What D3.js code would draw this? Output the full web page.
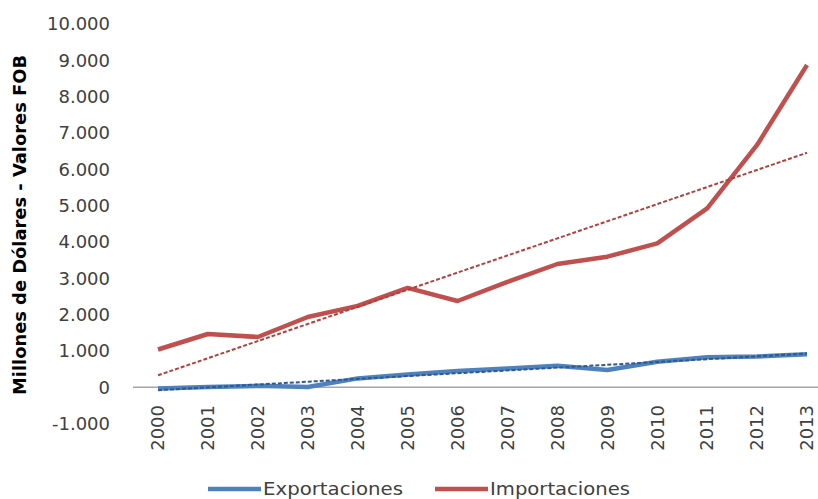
<!DOCTYPE html>
<html>
<head>
<meta charset="utf-8">
<script src="https://cdn.jsdelivr.net/npm/d3@7"></script>
<style>
  body { margin: 0; background: #fff; }
  text { font-family: "DejaVu Sans", sans-serif; fill: #404040; }
</style>
</head>
<body>
<script>
// Data (millones de dólares, valores FOB)
var years = ["2000", "2001", "2002", "2003", "2004", "2005", "2006",
             "2007", "2008", "2009", "2010", "2011", "2012", "2013"];
var exportaciones = [-30, 10, 40, 10, 245, 355, 450, 520, 595, 475, 705, 825, 845, 910];
var importaciones = [1040, 1467, 1385, 1935, 2240, 2735, 2375, 2900, 3394, 3595, 3963, 4927, 6670, 8870];
var yTicks = [-1000, 0, 1000, 2000, 3000, 4000, 5000, 6000, 7000, 8000, 9000, 10000];

var width = 818, height = 499;

var svg = d3.select("body").append("svg")
    .attr("width", width)
    .attr("height", height);

// Scales
var xScale = d3.scalePoint()
    .domain(years)
    .range([158, 807]);

var yScale = d3.scaleLinear()
    .domain([0, 10000])
    .range([387.3, 24]);

// Spanish number format: dot as thousands separator, plain hyphen for minus
var fmt = function(d) {
    return d3.format(",")(d).replace(/,/g, ".").replace("\u2212", "-");
};

// Y tick labels (no axis line)
svg.append("g")
    .selectAll("text")
    .data(yTicks)
    .enter()
    .append("text")
    .attr("x", 110)
    .attr("y", function(d) { return yScale(d); })
    .attr("dy", "0.35em")
    .attr("text-anchor", "end")
    .style("font-size", "18px")
    .text(fmt);

// Y axis title
svg.append("text")
    .attr("transform", "translate(26,225) rotate(-90)")
    .attr("text-anchor", "middle")
    .attr("textLength", 340)
    .attr("lengthAdjust", "spacingAndGlyphs")
    .style("font-size", "18px")
    .style("font-weight", "bold")
    .style("fill", "#000")
    .text("Millones de Dólares - Valores FOB");

// Zero line (category axis)
svg.append("line")
    .attr("x1", 133)
    .attr("x2", 832)
    .attr("y1", yScale(0))
    .attr("y2", yScale(0))
    .attr("stroke", "#a6a6a6")
    .attr("stroke-width", 1.5);

// X labels, rotated
svg.append("g")
    .selectAll("text")
    .data(years)
    .enter()
    .append("text")
    .attr("transform", function(d) { return "translate(" + xScale(d) + ",405) rotate(-90)"; })
    .attr("dy", "0.35em")
    .attr("text-anchor", "end")
    .style("font-size", "18px")
    .text(function(d) { return d; });

// Linear trend (least squares) of a series
function trend(values) {
    var n = values.length,
        mx = d3.mean(values, function(v, i) { return i; }),
        my = d3.mean(values),
        sxy = d3.sum(values, function(v, i) { return (i - mx) * (v - my); }),
        sxx = d3.sum(values, function(v, i) { return (i - mx) * (i - mx); }),
        b = sxy / sxx,
        a = my - b * mx;
    return [[0, a], [n - 1, a + b * (n - 1)]];
}

var line = d3.line()
    .x(function(d, i) { return xScale(years[i]); })
    .y(function(d) { return yScale(d); });

var trendLine = d3.line()
    .x(function(d) { return xScale(years[d[0]]); })
    .y(function(d) { return yScale(d[1]); });

var series = [
    {name: "Exportaciones", values: exportaciones, color: "#4f81bd", trendColor: "#2c5a91"},
    {name: "Importaciones", values: importaciones, color: "#c0504d", trendColor: "#b1413e"}
];

series.forEach(function(s) {
    svg.append("path")
        .datum(s.values)
        .attr("d", line)
        .attr("fill", "none")
        .attr("stroke", s.color)
        .attr("stroke-width", 4.5)
        .attr("stroke-linejoin", "round");
});

series.forEach(function(s) {
    svg.append("path")
        .datum(trend(s.values))
        .attr("d", trendLine)
        .attr("fill", "none")
        .attr("stroke", s.trendColor)
        .attr("stroke-width", 2)
        .attr("stroke-dasharray", "4,2");
});

// Legend
var legendX = [208, 435];
var legend = svg.append("g")
    .selectAll("g")
    .data(series)
    .enter()
    .append("g")
    .attr("transform", function(d, i) { return "translate(" + legendX[i] + ",489)"; });

legend.append("line")
    .attr("x1", 0)
    .attr("x2", 53)
    .attr("stroke", function(d) { return d.color; })
    .attr("stroke-width", 4.5);

legend.append("text")
    .attr("x", 55)
    .attr("dy", "0.35em")
    .attr("textLength", 140)
    .attr("lengthAdjust", "spacingAndGlyphs")
    .style("font-size", "18px")
    .text(function(d) { return d.name; });
</script>
</body>
</html>
